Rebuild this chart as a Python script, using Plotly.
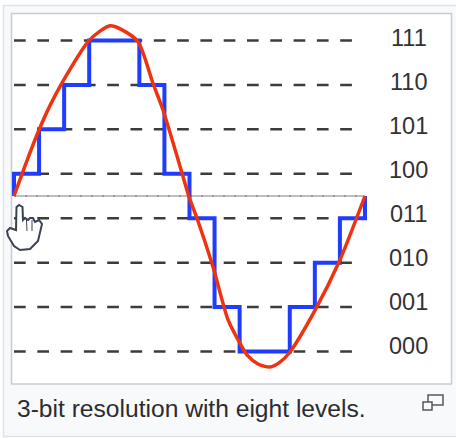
import plotly.graph_objects as go

level_codes = ["000", "001", "010", "011", "100", "101", "110", "111"]
level_values = [-3.5, -2.5, -1.5, -0.5, 0.5, 1.5, 2.5, 3.5]
caption = "3-bit resolution with eight levels."

step_t = [0, 0, 1, 1, 2, 2, 3, 3, 5, 5, 6, 6, 7, 7, 8, 8, 9, 9, 11, 11, 12, 12, 13, 13, 14, 14]
step_v = [0, 0.5, 0.5, 1.5, 1.5, 2.5, 2.5, 3.5, 3.5, 2.5, 2.5, 0.5, 0.5, -0.5, -0.5, -2.5, -2.5, -3.5,
          -3.5, -2.5, -2.5, -1.5, -1.5, -0.5, -0.5, 0]

wave_t = [0, 0.5, 1.0, 1.44, 1.95, 2.95, 3.43, 3.83, 4.31, 4.95, 5.54, 5.94, 6.70, 6.98, 7.30, 7.94,
          8.54, 9.01, 9.33, 9.73, 10.21, 10.61, 11.01, 12.01, 13.0, 14]
wave_v = [0, 0.77, 1.49, 2.04, 2.58, 3.47, 3.71, 3.83, 3.74, 3.47, 2.54, 1.94, 0.52, -0.02, -0.5, -1.6,
          -2.79, -3.31, -3.6, -3.78, -3.85, -3.74, -3.51, -2.57, -1.44, 0]

W, H = 456, 438
dash_end_t = 13.52

fig = go.Figure()
for v in level_values:
    fig.add_trace(go.Scatter(x=[0, dash_end_t], y=[v, v], mode="lines", hoverinfo="skip",
                             line=dict(color="#3c3c3c", width=2.5, dash="11.7px,11.6px")))
fig.add_trace(go.Scatter(x=[0, 14], y=[0, 0], mode="lines", hoverinfo="skip",
                         line=dict(color="#a8a8a8", width=1.5)))
fig.add_trace(go.Scatter(x=[0, 14], y=[0, 0], mode="lines", hoverinfo="skip",
                         line=dict(color="#777777", width=1, dash="2px,9px")))
fig.add_trace(go.Scatter(x=step_t, y=step_v, mode="lines", hoverinfo="skip",
                         line=dict(color="#1f3cff", width=4)))
fig.add_trace(go.Scatter(x=wave_t, y=wave_v, mode="lines", hoverinfo="skip",
                         line=dict(color="#ee3311", width=3.5, shape="spline", smoothing=0.7)))


def rect(x0, y0, x1, y1, fill, line=None, lw=0):
    return dict(type="rect", xref="paper", yref="paper", layer="below",
                x0=x0 / W, x1=x1 / W, y0=1 - y0 / H, y1=1 - y1 / H, fillcolor=fill,
                line=dict(color=line or fill, width=lw))


def path(points, fill="rgba(0,0,0,0)", color="#3b4252", lw=2, close=True, layer="above"):
    d = "M " + " L ".join(f"{x / W:.5f},{1 - y / H:.5f}" for x, y in points) + (" Z" if close else "")
    return dict(type="path", xref="paper", yref="paper", layer=layer, path=d,
                fillcolor=fill, line=dict(color=color, width=lw))


hand = [(19, 205), (16.5, 207), (16, 230), (10, 228), (7, 231), (8, 236), (14, 246), (20, 250), (30, 249),
        (38, 241), (42, 224), (39, 220), (35, 222), (33, 218), (30, 218), (28, 220), (25, 218), (23, 220),
        (22.5, 207)]
icon_a = [(428, 395), (443, 395), (443, 405), (428, 405)]
icon_b = [(423, 402), (432, 402), (432, 410), (423, 410)]

shapes = [
    rect(3.5, 5.5, 470, 436.5, "#f8f9fa", "#dfe2e6", 1.5),
    rect(11.5, 13.5, 451.5, 384, "#ffffff", "#c8ccd1", 1.5),
    path(hand, fill="#ffffff"),
    path([(26.5, 220), (27, 231)], lw=1, close=False),
    path([(32, 220), (32, 231)], lw=1, close=False),
    path(icon_a, color="#54595d", lw=1.5),
    path(icon_b, fill="#f8f9fa", color="#54595d", lw=1.5),
]

annotations = [
    dict(x=408.5 / W, xref="paper", y=v, yref="y", yshift=4 - 0.57 * v, text=c, showarrow=False,
         xanchor="center", yanchor="middle", font=dict(family="Liberation Sans", size=23.5, color="#333333"))
    for c, v in zip(level_codes, level_values)
]
annotations.append(dict(x=15 / W, xref="paper", y=1 - 408 / H, yref="paper", text=caption, showarrow=False,
                        xanchor="left", yanchor="middle",
                        font=dict(family="Liberation Sans", size=24.6, color="#2a2c30")))

fig.update_layout(
    width=W, height=H, margin=dict(l=0, r=0, t=0, b=0), showlegend=False,
    paper_bgcolor="#ffffff", plot_bgcolor="rgba(0,0,0,0)", shapes=shapes, annotations=annotations,
    xaxis=dict(range=[-14 / 25.07, 442 / 25.07], visible=False, fixedrange=True),
    yaxis=dict(range=[-242 / 44.43, 196 / 44.43], visible=False, fixedrange=True),
)
fig.write_html("out.html", config={"displayModeBar": False},
               post_script="document.body.style.margin='0';document.body.style.overflow='hidden';")
